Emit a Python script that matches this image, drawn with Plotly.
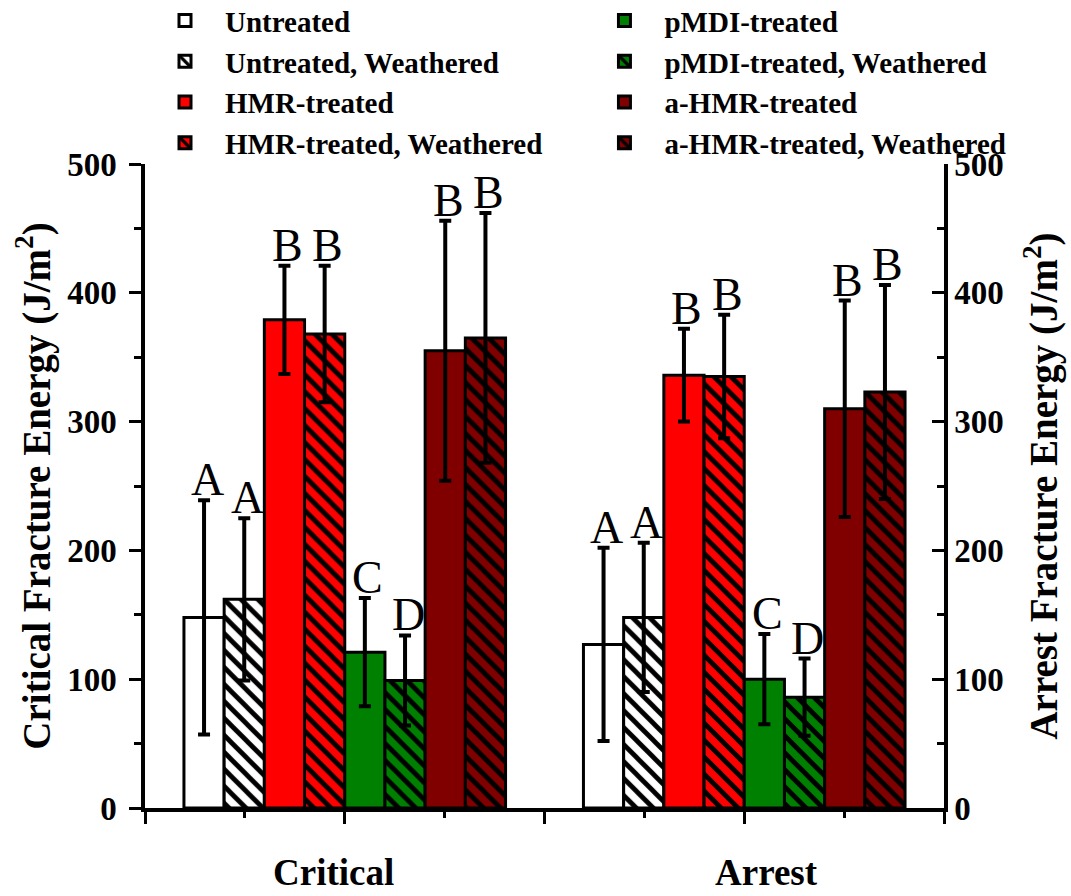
import plotly.graph_objects as go
import numpy as np

categories = ["Critical", "Arrest"]
treatments = ["Untreated", "Untreated, Weathered", "HMR-treated", "HMR-treated, Weathered",
              "pMDI-treated", "pMDI-treated, Weathered", "a-HMR-treated", "a-HMR-treated, Weathered"]
critical_mean = [148, 162, 379, 368, 121, 99, 355, 365]
critical_err = [91, 63, 42, 53, 42, 35, 101, 97]
arrest_mean = [127, 148, 336, 335, 100, 86, 310, 323]
arrest_err = [75, 58, 36, 48, 35, 30, 84, 83]
critical_letters = ["A", "A", "B", "B", "C", "D", "B", "B"]
arrest_letters = ["A", "A", "B", "B", "C", "D", "B", "B"]
y_ticks = [0, 100, 200, 300, 400, 500]

fills = ["#FFFFFF", "#FFFFFF", "#FF0000", "#FF0000", "#008000", "#008000", "#800000", "#800000"]
hatched = [False, True, False, True, False, True, False, True]
legend_ids = ["legend", "legend", "legend", "legend", "legend2", "legend2", "legend2", "legend2"]

FONT = "Liberation Serif, Times New Roman, serif"
BARGAP = 0.195
n = len(treatments)
xcat = np.arange(len(categories))

fig = go.Figure()
for i, name in enumerate(treatments):
    pattern = dict(shape="\\" if hatched[i] else "", fgcolor="black", bgcolor=fills[i],
                   size=12, solidity=0.4, fillmode="replace")
    fig.add_trace(go.Bar(
        x=xcat, y=[critical_mean[i], arrest_mean[i]], name=name,
        marker=dict(color=fills[i], line=dict(color="black", width=3), pattern=pattern),
        error_y=dict(type="data", array=[critical_err[i], arrest_err[i]], color="black",
                     thickness=4, width=6),
        legend=legend_ids[i],
        yaxis="y",
    ))

# invisible trace for the right axis
fig.add_trace(go.Scatter(x=[xcat[0]], y=[0], yaxis="y2", mode="markers",
                         marker=dict(opacity=0), showlegend=False, hoverinfo="skip"))

annotations = []
gw = 1 - BARGAP
w = gw / n
for c, (means, errs, letters) in enumerate([(critical_mean, critical_err, critical_letters),
                                             (arrest_mean, arrest_err, arrest_letters)]):
    for i in range(n):
        xc = xcat[c] - gw / 2 + w * (i + 0.5)
        annotations.append(dict(x=xc, y=means[i] + errs[i], xref="x", yref="y", text=letters[i],
                                showarrow=False, yanchor="bottom", xanchor="center", xshift=3,
                                yshift=-7, font=dict(family=FONT, size=46, color="black")))

cat_shift = [-11, 22]
for c, cat in enumerate(categories):
    annotations.append(dict(x=xcat[c], y=-0.1, xref="x", yref="paper", text=cat,
                            showarrow=False, yanchor="middle", xanchor="center", xshift=cat_shift[c],
                            font=dict(family=FONT, size=37, color="black", weight="bold")))

axis_common = dict(showgrid=False, zeroline=False, showline=True, linecolor="black", linewidth=3.5,
                   tickcolor="black", tickwidth=3, ticklen=12)
tickfont = dict(family=FONT, size=33, color="black", weight="bold")
titlefont = dict(family=FONT, size=39, color="black", weight="bold")
legfont = dict(family=FONT, size=29, color="black", weight="bold")

fig.update_layout(
    width=1071, height=896,
    margin=dict(l=145, r=127, t=164, b=88, autoexpand=False),
    plot_bgcolor="white", paper_bgcolor="white",
    barmode="group", bargap=BARGAP, bargroupgap=0,
    showlegend=True,
    font=dict(family=FONT, color="black"),
    xaxis=dict(range=[-0.5, 1.5], tickmode="array",
               tickvals=[-0.5, 0, 0.5, 1, 1.5], showticklabels=False,
               ticks="outside", minor=dict(dtick=0.25, tick0=-0.5, ticks="outside", ticklen=6,
                                           tickwidth=3, tickcolor="black"),
               **axis_common),
    yaxis=dict(range=[0, 500], tickvals=y_ticks, ticks="outside",
               minor=dict(dtick=50, ticks="outside", ticklen=7, tickwidth=3, tickcolor="black"),
               tickfont=tickfont, ticklabelstandoff=6,
               title=dict(text="Critical Fracture Energy (J/m<sup>2</sup>)",
                          font=titlefont, standoff=6),
               **axis_common),
    yaxis2=dict(range=[0, 500], tickvals=y_ticks, overlaying="y", side="right", ticks="inside",
                minor=dict(dtick=50, ticks="inside", ticklen=7, tickwidth=3, tickcolor="black"),
                tickfont=tickfont, ticklabelstandoff=0,
                title=dict(text="Arrest Fracture Energy (J/m<sup>2</sup>)",
                           font=titlefont, standoff=28),
                **axis_common),
    legend=dict(x=0.0, y=1.262, xanchor="left", yanchor="top", bgcolor="rgba(0,0,0,0)",
                font=legfont, itemwidth=70, tracegroupgap=0, traceorder="normal"),
    legend2=dict(x=0.55, y=1.262, xanchor="left", yanchor="top", bgcolor="rgba(0,0,0,0)",
                 font=legfont, itemwidth=70, tracegroupgap=0, traceorder="normal"),
    annotations=annotations,
)

fig.write_html("out.html")
